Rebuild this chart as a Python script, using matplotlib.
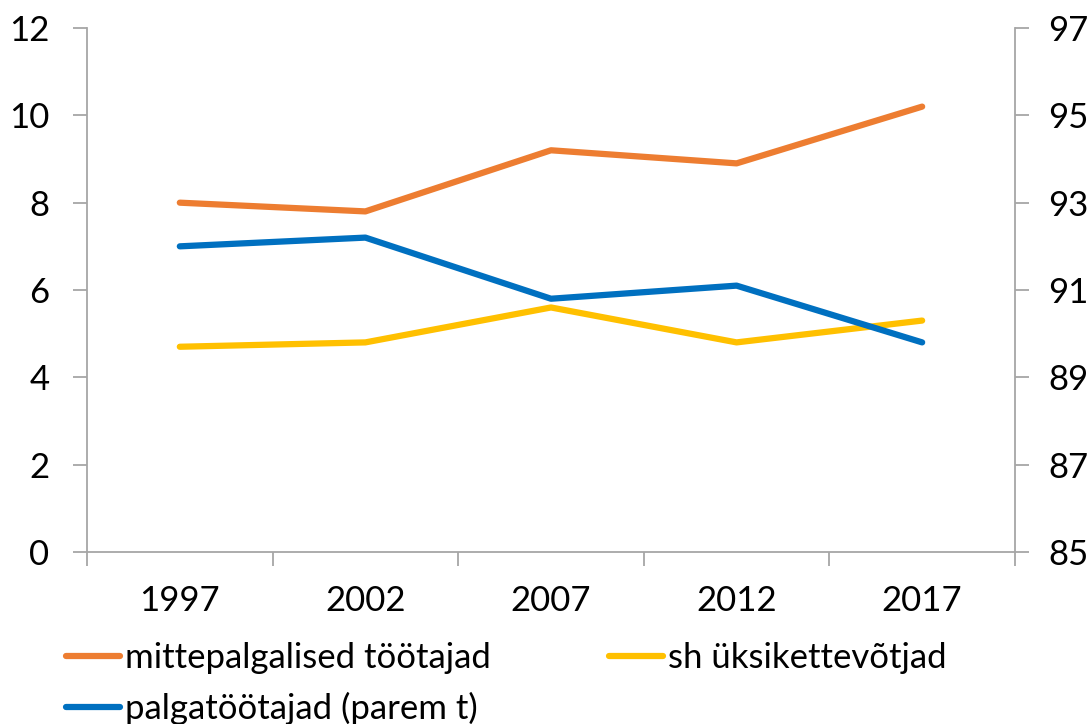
import matplotlib.pyplot as plt
import numpy as np

plt.rcParams['font.family'] = ['Lato', 'DejaVu Sans']

years = ['1997', '2002', '2007', '2012', '2017']
mittepalgalised = [8.0, 7.8, 9.2, 8.9, 10.2]
uksikettevotjad = [4.7, 4.8, 5.6, 4.8, 5.3]
palgatootajad = [92.0, 92.2, 90.8, 91.1, 89.8]

c_orange = '#ED7D31'
c_yellow = '#FFC000'
c_blue = '#0070C0'
grey = '#A6A6A6'
fs = 25

fig = plt.figure(figsize=(10.89, 7.24), dpi=100)
ax = fig.add_axes([0.0799, 0.2376, 0.8521, 0.7237])
ax2 = ax.twinx()

x = np.arange(len(years))
l1, = ax.plot(x, mittepalgalised, color=c_orange, lw=4.5, solid_capstyle='round')
l2, = ax.plot(x, uksikettevotjad, color=c_yellow, lw=4.5, solid_capstyle='round')
l3, = ax2.plot(x, palgatootajad, color=c_blue, lw=4.5, solid_capstyle='round')

ax.set_xlim(-0.5, len(years) - 0.5)
ax.set_ylim(0, 12)
ax.set_yticks(np.arange(0, 13, 2))
ax2.set_ylim(85, 97)
ax2.set_yticks(np.arange(85, 98, 2))

# category axis: ticks between categories, labels at centres
ax.set_xticks(np.arange(-0.5, len(years), 1))
ax.set_xticklabels([])
ax.set_xticks(x, minor=True)
ax.set_xticklabels(years, minor=True)
ax.tick_params(axis='x', which='major', length=10, width=1.3, color=grey, direction='out')
ax.tick_params(axis='x', which='minor', length=0, pad=24, labelsize=fs)

ax.tick_params(axis='y', length=10, width=1.3, color=grey, direction='out', pad=17, labelsize=fs)
ax2.tick_params(axis='y', length=10, width=1.3, color=grey, direction='out', pad=14, labelsize=fs)

for a in (ax, ax2):
    for s in a.spines.values():
        s.set_visible(False)
ax.spines['left'].set_visible(True)
ax.spines['bottom'].set_visible(True)
ax2.spines['right'].set_visible(True)
for s in (ax.spines['left'], ax.spines['bottom'], ax2.spines['right']):
    s.set_color(grey)
    s.set_linewidth(1.3)

leg_kw = dict(frameon=False, fontsize=fs, handlelength=1.55, handletextpad=0.15,
              labelspacing=0.5, borderpad=0, borderaxespad=0, loc='upper left')
leg1 = fig.legend([l1, l3], ['mittepalgalised töötajad', 'palgatöötajad (parem t)'],
                  bbox_to_anchor=(0.061, 0.113), **leg_kw)
leg2 = fig.legend([l2], ['sh üksikettevõtjad'], bbox_to_anchor=(0.559, 0.113), **leg_kw)

fig.savefig('out.png', dpi=100)
